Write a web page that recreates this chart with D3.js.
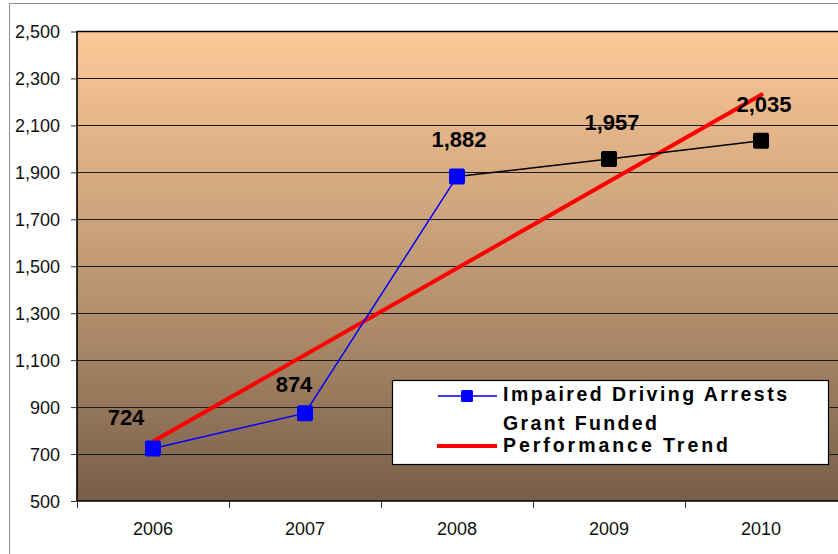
<!DOCTYPE html>
<html><head><meta charset="utf-8">
<script src="https://cdn.jsdelivr.net/npm/d3@7"></script>
<style>body{margin:0;background:#fff}svg{display:block}text{font-family:"Liberation Sans",Arial,sans-serif}</style>
</head><body><svg id="c" width="838" height="554"></svg>
<script>
const years = ["2006","2007","2008","2009","2010"];
const arrests = [724, 874, 1882, 1957, 2035];
const labels = ["724","874","1,882","1,957","2,035"];
const trendYears = ["2006","2010"];
const trendValues = [753, 2235];
const yTicks = [500,700,900,1100,1300,1500,1700,1900,2100,2300,2500];
const legendLabels = ["Impaired Driving Arrests","Grant Funded","Performance Trend"];

const svg = d3.select("#c");
const L = 77, T = 31.5, R = 837, B = 501;
const x = d3.scaleBand().domain(years).range([L, R]);
const y = d3.scaleLinear().domain([500, 2500]).range([B, T]);
const cx = d => x(d) + x.bandwidth() / 2;

// outer frame
svg.append("rect").attr("x", 9.5).attr("y", 3.5).attr("width", 900).attr("height", 600)
  .attr("fill", "#fff").attr("stroke", "#8c8c8c");

// gradient
const defs = svg.append("defs");
const g = defs.append("linearGradient").attr("id", "bg").attr("x1", 0).attr("y1", 0).attr("x2", 0).attr("y2", 1);
g.append("stop").attr("offset", "0%").attr("stop-color", "#fdc897");
g.append("stop").attr("offset", "50%").attr("stop-color", "#c09a75");
g.append("stop").attr("offset", "100%").attr("stop-color", "#775e48");
svg.append("rect").attr("x", L).attr("y", T).attr("width", R - L + 5).attr("height", B - T).attr("fill", "url(#bg)");

// gridlines
svg.append("g").selectAll("line").data(yTicks.slice(1, -1)).join("line")
  .attr("x1", L).attr("x2", 838).attr("y1", d => Math.round(y(d)) + 0.5).attr("y2", d => Math.round(y(d)) + 0.5)
  .attr("stroke", "#1a1a1a").attr("stroke-width", 1);

// plot border
svg.append("path").attr("d", `M838,${T}H${L}V${B}H838`).attr("fill", "none").attr("stroke", "#000").attr("stroke-width", 1.6);

// y axis
const ya = d3.axisLeft(y).tickValues(yTicks).tickSize(6).tickPadding(11).tickFormat(d3.format(","));
const yg = svg.append("g").attr("transform", `translate(${L},0)`).call(ya);
yg.select(".domain").remove();
yg.selectAll("line").attr("stroke", "#333");
yg.selectAll("text").attr("font-size", 18).attr("fill", "#111").attr("dy", "0.35em");

// x axis
const xa = d3.axisBottom(x).tickSize(0).tickPadding(0);
const xg = svg.append("g").attr("transform", `translate(0,${B})`).call(xa);
xg.select(".domain").remove();
xg.selectAll("text").attr("font-size", 18).attr("fill", "#111").attr("y", 34).attr("dy", 0);
svg.append("g").selectAll("line").data(years).join("line")
  .attr("x1", d => Math.round(x(d)) + 0.5).attr("x2", d => Math.round(x(d)) + 0.5)
  .attr("y1", B).attr("y2", B + 7).attr("stroke", "#333");

// trend line
svg.append("line")
  .attr("x1", cx(trendYears[0])).attr("y1", y(trendValues[0]))
  .attr("x2", cx(trendYears[1]) + 2).attr("y2", y(trendValues[1]))
  .attr("stroke", "#ff0000").attr("stroke-width", 4);

// series lines
const line = d3.line().x(d => cx(d[0])).y(d => y(d[1]));
const pts = years.map((yr, i) => [yr, arrests[i]]);
svg.append("path").attr("d", line(pts.slice(0, 3))).attr("fill", "none").attr("stroke", "#0000ff").attr("stroke-width", 1.5);
svg.append("path").attr("d", line(pts.slice(2))).attr("fill", "none").attr("stroke", "#000").attr("stroke-width", 1.5);

// markers
const ms = 16;
svg.append("g").selectAll("rect").data(pts).join("rect")
  .attr("x", d => cx(d[0]) - ms / 2).attr("y", d => y(d[1]) - ms / 2)
  .attr("width", ms).attr("height", ms).attr("rx", 2)
  .attr("fill", (d, i) => i < 3 ? "#0000ff" : "#000");

// data labels
const ldx = [-27, -11, 2, 3, 3];
const ldy = [-23, -21, -30, -29, -29];
svg.append("g").selectAll("text").data(pts).join("text")
  .attr("x", (d, i) => cx(d[0]) + ldx[i]).attr("y", (d, i) => y(d[1]) + ldy[i])
  .attr("text-anchor", "middle").attr("font-size", 22).attr("font-weight", "bold").attr("fill", "#000")
  .text((d, i) => labels[i]);

// legend
const lg = svg.append("g");
lg.append("rect").attr("x", 392.5).attr("y", 380.5).attr("width", 436).attr("height", 84)
  .attr("fill", "#fff").attr("stroke", "#000").attr("stroke-width", 1.2);
lg.append("line").attr("x1", 438).attr("x2", 497).attr("y1", 396).attr("y2", 396).attr("stroke", "#0000ff").attr("stroke-width", 1.5);
lg.append("rect").attr("x", 461).attr("y", 390).attr("width", 12).attr("height", 12).attr("rx", 1.5).attr("fill", "#0000ff");
lg.append("line").attr("x1", 437).attr("x2", 497).attr("y1", 446).attr("y2", 446).attr("stroke", "#ff0000").attr("stroke-width", 4);
const lw = [284, 154, 225];
const lb = [401, 430, 452];
lg.selectAll("text").data(legendLabels).join("text")
  .attr("x", 503).attr("y", (d, i) => lb[i]).attr("font-size", 19.5).attr("font-weight", "bold").attr("fill", "#000")
  .attr("textLength", (d, i) => lw[i]).attr("lengthAdjust", "spacing")
  .text(d => d);
</script></body></html>
